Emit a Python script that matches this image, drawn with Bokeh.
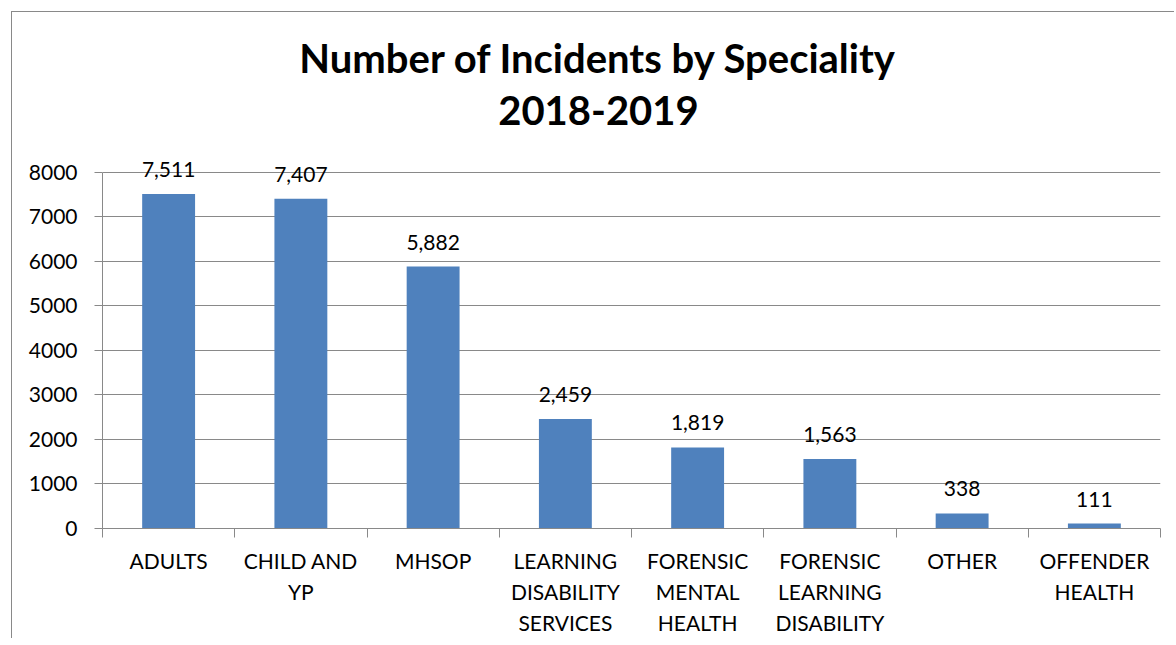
from bokeh.plotting import figure
from bokeh.models import ColumnDataSource, Range1d, FixedTicker, LabelSet, Label
from bokeh.core.properties import value
from bokeh.embed import file_html
from bokeh.resources import INLINE

categories = ["ADULTS", "CHILD AND\nYP", "MHSOP", "LEARNING\nDISABILITY\nSERVICES",
              "FORENSIC\nMENTAL\nHEALTH", "FORENSIC\nLEARNING\nDISABILITY",
              "OTHER", "OFFENDER\nHEALTH"]
incidents = [7511, 7407, 5882, 2459, 1819, 1563, 338, 111]
y_ticks = [0, 1000, 2000, 3000, 4000, 5000, 6000, 7000, 8000]
title_lines = ["Number of Incidents by Speciality", "2018-2019"]

FONT = "Lato"
GRID = "#898989"
BLUE = "#4F81BD"

n = len(categories)
xs = [i + 0.5 for i in range(n)]
source = ColumnDataSource(dict(
    x=xs,
    value=incidents,
    label=[f"{v:,}" for v in incidents],
))

Y_TOP = 11250  # headroom above the axis so the title sits inside the frame
p = figure(
    frame_width=1058, frame_height=501,
    x_range=Range1d(0, n), y_range=Range1d(0, Y_TOP),
    output_backend="svg", toolbar_location=None, tools="",
    min_border_left=90, min_border_right=14, min_border_top=15, min_border_bottom=100,
    styles={"margin-left": "11px", "margin-top": "11px",
            "border-top": f"1px solid {GRID}", "border-left": f"1px solid {GRID}"},
)
p.outline_line_color = None
p.background_fill_color = "white"
p.border_fill_color = "white"

p.vbar(x="x", top="value", width=0.4, source=source, color=BLUE, line_color=None)

p.add_layout(LabelSet(x="x", y="value", text="label", source=source,
                      text_align="center", text_baseline="alphabetic", y_offset=17,
                      text_font=value(FONT), text_font_size="21px", text_color="#000000"))

# axes
xa = p.xaxis[0]
xa.ticker = FixedTicker(ticks=xs, minor_ticks=list(range(n + 1)))
xa.major_label_overrides = {x: c for x, c in zip(xs, categories)}
xa.major_tick_line_color = None
xa.major_tick_out = 0
xa.major_tick_in = 0
xa.minor_tick_line_color = GRID
xa.minor_tick_out = 9
xa.minor_tick_in = 0
xa.axis_line_color = GRID
xa.major_label_text_font = FONT
xa.major_label_text_font_size = "21px"
xa.major_label_text_color = "#000000"
xa.major_label_text_line_height = 1.25
xa.major_label_standoff = 10

ya = p.yaxis[0]
ya.ticker = FixedTicker(ticks=y_ticks)
ya.bounds = (0, 8000)
ya.major_tick_out = 8
ya.major_tick_in = 0
ya.minor_tick_line_color = None
ya.major_tick_line_color = GRID
ya.axis_line_color = GRID
ya.major_label_text_font = FONT
ya.major_label_text_font_size = "21px"
ya.major_label_text_color = "#000000"
ya.major_label_standoff = 17

p.xgrid.grid_line_color = None
p.ygrid.grid_line_color = GRID
p.ygrid.ticker = FixedTicker(ticks=y_ticks)

# two-line title, centred slightly left of the plot-area centre (as in the original)
for txt, yy in zip(title_lines, [10565, 9380]):
    p.add_layout(Label(x=3.75, y=yy, text=txt, text_align="center",
                       text_baseline="alphabetic", text_font=FONT,
                       text_font_size="40px", text_font_style="bold",
                       text_color="#000000"))

open("out.html", "w").write(file_html(p, INLINE))
